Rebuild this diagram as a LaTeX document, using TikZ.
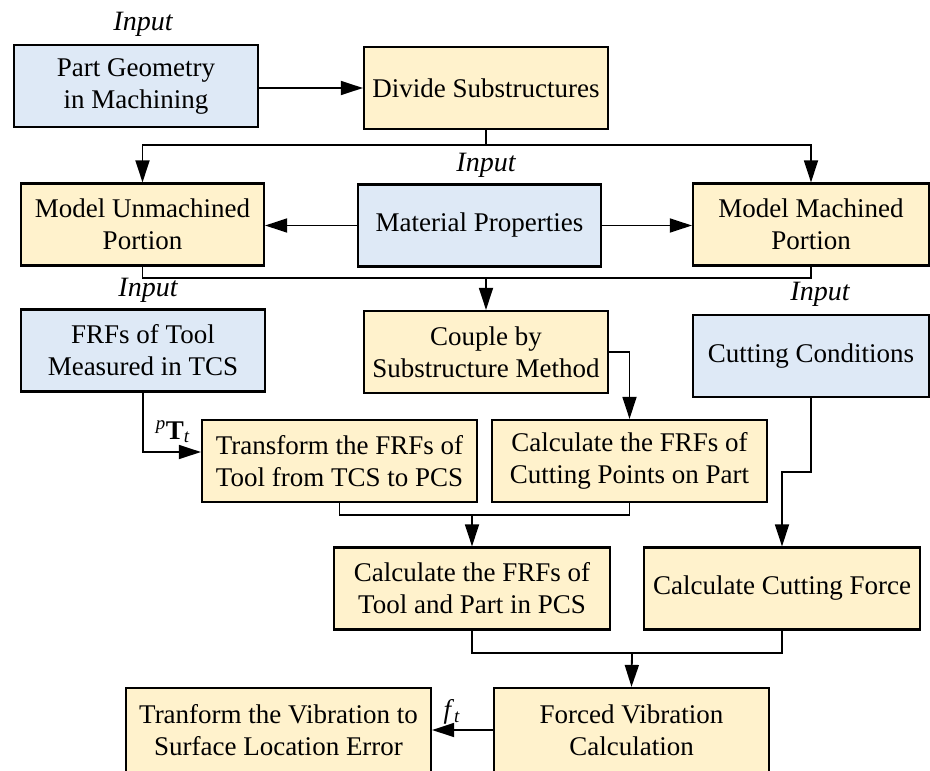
\documentclass[tikz,border=0pt]{standalone}
\usepackage{fontspec}
\setmainfont{LiberationSerif}[Extension=.ttf, UprightFont=*-Regular,
  ItalicFont=*-Italic, BoldFont=*-Bold, BoldItalicFont=*-BoldItalic]
\usetikzlibrary{arrows.meta}
\definecolor{azulin}{RGB}{222,233,246}
\definecolor{amarillo}{RGB}{255,242,204}
\tikzset{
  caja/.style={draw, line width=2.2pt, align=center, inner sep=0pt,
    font=\fontsize{27}{32}\selectfont, minimum height=82pt},
  cajaazul/.style={caja, fill=azulin},
  cajaamar/.style={caja, fill=amarillo},
  entrada/.style={font=\fontsize{28}{32}\selectfont\itshape, inner sep=0pt},
  flecha/.style={line width=1.8pt, -{Triangle[length=22pt,width=14pt]}},
  linea/.style={line width=1.8pt}
}
\begin{document}
\begin{tikzpicture}[x=1pt,y=-1pt]
    \useasboundingbox (0,0) rectangle (930,771);

    % Cajas de entrada
    \node[cajaazul, minimum width=244pt] (geom) at (136,86) {Part Geometry\\in Machining};
    \node[cajaazul, minimum width=243pt] (mater) at (479.5,225.5) {Material Properties};
    \node[cajaazul, minimum width=244pt] (frft) at (143,350.5) {FRFs of Tool\\Measured in TCS};
    \node[cajaazul, minimum width=236pt] (cutc) at (811,356) {Cutting Conditions};

    % Etiquetas de entrada
    \node[entrada] (in1) at (143,24) {Input};
    \node[entrada] (in2) at (486,165) {Input};
    \node[entrada] (in3) at (148,290) {Input};
    \node[entrada] (in4) at (820,294) {Input};

    % Cajas de proceso
    \node[cajaamar, minimum width=244pt] (divide) at (486,88) {Divide Substructures};
    \node[cajaamar, minimum width=243pt] (unmach) at (142.5,224.5) {Model Unmachined\\Portion};
    \node[cajaamar, minimum width=236pt] (mach) at (811,224.5) {Model Machined\\Portion};
    \node[cajaamar, minimum width=244pt] (couple) at (486,352) {Couple by\\Substructure Method};
    \node[cajaamar, minimum width=275pt] (trans) at (339.5,461) {Transform the FRFs of\\Tool from TCS to PCS};
    \node[cajaamar, minimum width=275pt] (cutp) at (629.5,461) {Calculate the FRFs of\\Cutting Points on Part};
    \node[cajaamar, minimum width=276pt] (calct) at (472,588.5) {Calculate the FRFs of\\Tool and Part in PCS};
    \node[cajaamar, minimum width=276pt] (force) at (782,588.5) {Calculate Cutting Force};
    \node[cajaamar, minimum width=275pt, minimum height=84pt] (forced) at (631.5,730) {Forced Vibration\\Calculation};
    \node[cajaamar, minimum width=305pt, minimum height=84pt] (slerr) at (278.5,730) {Tranform the Vibration to\\Surface Location Error};

    % Puntos de union
    \coordinate (j1) at (486,145);
    \coordinate (j2) at (486,278);
    \coordinate (j3) at (472,515);
    \coordinate (j4) at (632,653);

    % Conexiones
    \draw[flecha] (geom.east |- divide.west) -- (divide.west);
    \draw[linea] (divide.south) -- (j1);
    \draw[flecha] (j1) -| (unmach.north);
    \draw[flecha] (j1) -| (mach.north);
    \draw[flecha] (mater.west) -- (unmach.east |- mater.west);
    \draw[flecha] (mater.east) -- (mach.west |- mater.east);
    \draw[linea] (unmach.south) |- (j2) -| (mach.south);
    \draw[flecha] (j2) -- (couple.north);
    \draw[flecha] (frft.south) |- ([yshift=9pt]trans.west);
    \draw[flecha] (couple.east) -| (cutp.north);
    \draw[linea] (trans.south) |- (j3) -| (cutp.south);
    \draw[flecha] (j3) -- (calct.north);
    \draw[flecha] (cutc.south) -- ++(0,74) -| (force.north);
    \draw[linea] (calct.south) |- (j4) -| (force.south);
    \draw[flecha] (j4) -- (forced.north);
    \draw[flecha] (forced.west) -- (slerr.east);

    % Etiquetas de las flechas
    \node[font=\fontsize{27}{32}\selectfont, inner sep=0pt] (ptt) at (173,432) {\textsuperscript{\textit{p}}\textbf{T}\textsubscript{\textit{t}}};
    \node[font=\fontsize{27}{32}\selectfont, inner sep=0pt] (ft) at (452,712) {\textit{f}\textsubscript{\textit{t}}};
\end{tikzpicture}
\end{document}
